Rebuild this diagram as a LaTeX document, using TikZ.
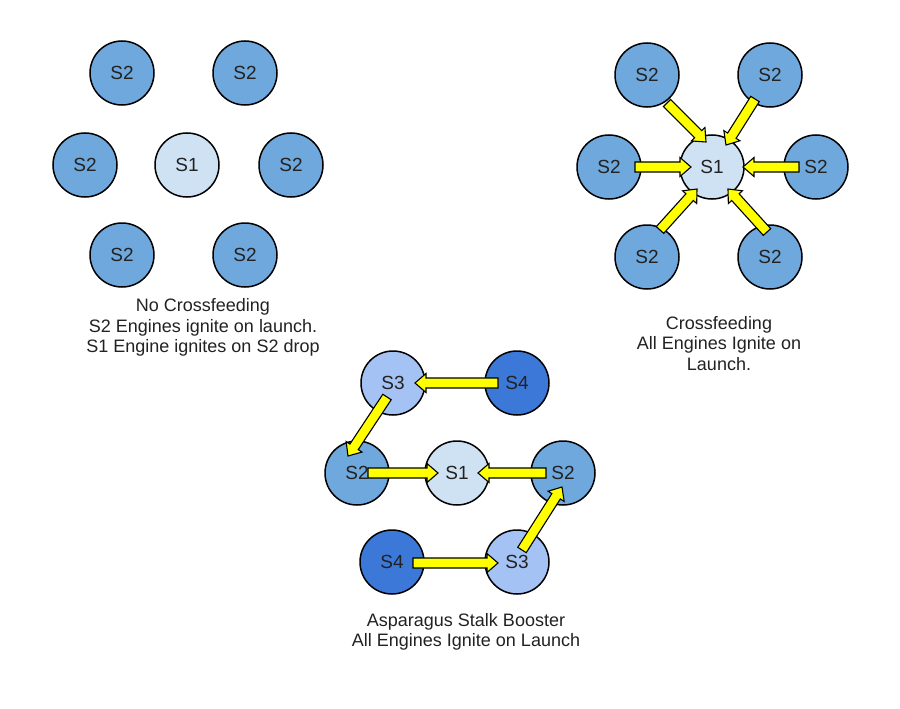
\documentclass[tikz,border=0pt]{standalone}
\usepackage{fontspec}
\setmainfont{Liberation Sans}
\usetikzlibrary{calc}
\definecolor{cSone}{HTML}{CFE2F3}
\definecolor{cStwo}{HTML}{6FA8DC}
\definecolor{cSthree}{HTML}{A4C2F4}
\definecolor{cSfour}{HTML}{3C78D8}
\definecolor{cArrow}{HTML}{FFFF00}
\definecolor{cText}{HTML}{222222}
\tikzset{
  stage/.style={circle, draw=black, line width=1.5pt, minimum size=64pt, inner sep=0pt,
    font=\fontsize{19}{21}\selectfont, text=cText},
  sone/.style={stage, fill=cSone},
  stwo/.style={stage, fill=cStwo},
  sthree/.style={stage, fill=cSthree},
  sfour/.style={stage, fill=cSfour},
  caption/.style={align=center, text=cText, font=\fontsize{18}{20.5}\selectfont},
  feedarrow/.style={fill=cArrow, draw=black, line width=1.1pt, line join=miter}
}
\newcommand\blockarrow[2]{%
  \coordinate (hb) at ($(#2)!11pt!(#1)$);
  \path[feedarrow] ($(#1)!5pt!90:(#2)$) -- ($(hb)!5pt!-90:(#1)$) -- ($(hb)!9.5pt!-90:(#1)$)
    -- (#2) -- ($(hb)!9.5pt!90:(#1)$) -- ($(hb)!5pt!90:(#1)$) -- ($(#1)!5pt!-90:(#2)$) -- cycle;}
\begin{document}
\begin{tikzpicture}[x=1pt,y=-1pt]
\useasboundingbox[fill=white] (0,0) rectangle (900,709);

% ---- No crossfeeding
\node[stwo] (n1) at (122,73) {S2};
\node[stwo] (n2) at (245,73) {S2};
\node[stwo] (n3) at (85,165) {S2};
\node[sone] (sa) at (187,165) {S1};
\node[stwo] (n4) at (291,165) {S2};
\node[stwo] (n5) at (122,255) {S2};
\node[stwo] (n6) at (245,255) {S2};
\node[caption] (capa) at (203,327.5) {No Crossfeeding\\S2 Engines ignite on launch.\\S1 Engine ignites on S2 drop};

% ---- Crossfeeding
\node[stwo] (c1) at (647,75) {S2};
\node[stwo] (c2) at (770,75) {S2};
\node[stwo] (c3) at (609,167) {S2};
\node[sone] (sb) at (712,167) {S1};
\node[stwo] (c4) at (816,167) {S2};
\node[stwo] (c5) at (647,257) {S2};
\node[stwo] (c6) at (770,257) {S2};
\node[caption] (capb) at (719,343.5) {Crossfeeding\\All Engines Ignite on\\Launch.};

\coordinate (c1s) at ($(c1)+(20,28)$);  \coordinate (c1t) at ($(sb)+(-6,-25)$);
\coordinate (c2s) at ($(c2)+(-15,24)$); \coordinate (c2t) at ($(sb)+(14,-22)$);
\coordinate (c3s) at ($(c3)+(26,0)$);   \coordinate (c3t) at ($(sb)+(-21,0)$);
\coordinate (c4s) at ($(c4)+(-17,0)$);  \coordinate (c4t) at ($(sb)+(31,0)$);
\coordinate (c5s) at ($(c5)+(13,-27)$); \coordinate (c5t) at ($(sb)+(-15,22)$);
\coordinate (c6s) at ($(c6)+(-3,-25)$); \coordinate (c6t) at ($(sb)+(16,22)$);
\blockarrow{c1s}{c1t}
\blockarrow{c2s}{c2t}
\blockarrow{c3s}{c3t}
\blockarrow{c4s}{c4t}
\blockarrow{c5s}{c5t}
\blockarrow{c6s}{c6t}

% ---- Asparagus
\node[sthree] (a3t) at (393,383) {S3};
\node[sfour]  (a4t) at (517,383) {S4};
\node[stwo]   (a2l) at (357,473) {S2};
\node[sone]   (a1)  at (457,473) {S1};
\node[stwo]   (a2r) at (563,473) {S2};
\node[sfour]  (a4b) at (392,562) {S4};
\node[sthree] (a3b) at (517,562) {S3};
\node[caption] (capc) at (466,632) {Asparagus Stalk Booster\\All Engines Ignite on Launch};

\coordinate (p1s) at ($(a4t)+(-19,0)$);  \coordinate (p1t) at ($(a3t)+(22,0)$);
\coordinate (p2s) at ($(a3t)+(-6,14)$);  \coordinate (p2t) at ($(a2l)+(-9,-17)$);
\coordinate (p3s) at ($(a2l)+(11,0)$);   \coordinate (p3t) at ($(a1)+(-19,0)$);
\coordinate (p4s) at ($(a2r)+(-17,0)$);  \coordinate (p4t) at ($(a1)+(21,0)$);
\coordinate (p5s) at ($(a3b)+(5,-12)$);  \coordinate (p5t) at ($(a2r)+(-1,14)$);
\coordinate (p6s) at ($(a4b)+(21,1)$);   \coordinate (p6t) at ($(a3b)+(-19,1)$);
\blockarrow{p1s}{p1t}
\blockarrow{p2s}{p2t}
\blockarrow{p3s}{p3t}
\blockarrow{p4s}{p4t}
\blockarrow{p5s}{p5t}
\blockarrow{p6s}{p6t}
\end{tikzpicture}
\end{document}
